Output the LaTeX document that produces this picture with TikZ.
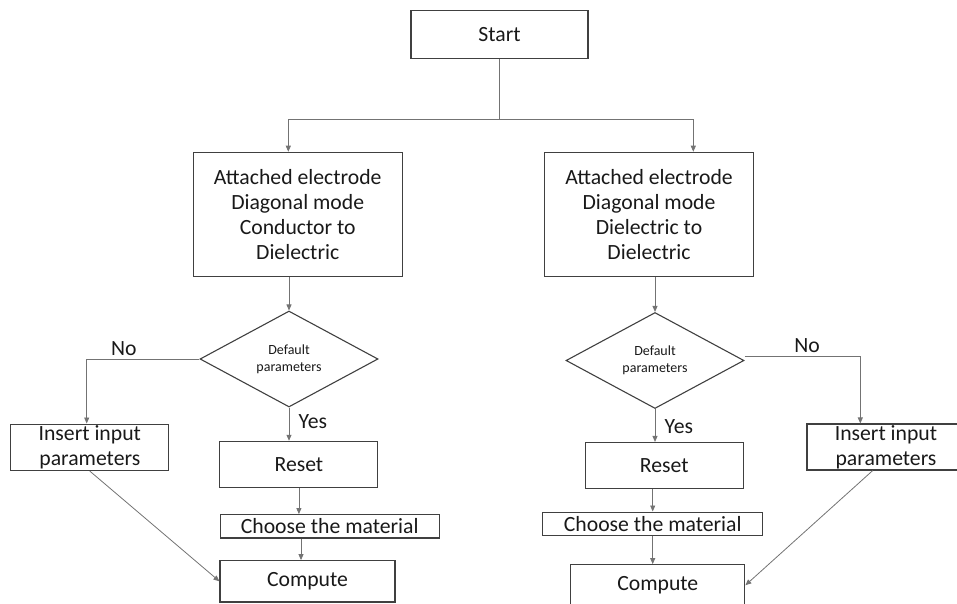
\documentclass[tikz,border=0pt]{standalone}
\usepackage{fontspec}
\setmainfont{Carlito}
\usetikzlibrary{arrows.meta,positioning,shapes.geometric}

\begin{document}
\begin{tikzpicture}[
  x=1pt, y=-1pt,
  box/.style={draw=black!75, line width=1.1pt, text=black!90, align=center, inner sep=0pt, font=\fontsize{21.7}{25}\selectfont},
  dec/.style={draw=black!75, line width=1.1pt, diamond, aspect=1.85, inner sep=0pt, text=black!90, align=center, minimum width=178pt, minimum height=96pt, font=\fontsize{14}{16.7}\selectfont},
  arr/.style={-{Triangle[length=6pt,width=5pt]}, draw=black!55, line width=0.8pt},
  lbl/.style={text=black!90, font=\fontsize{21.7}{25}\selectfont}
]
\useasboundingbox (0,0) rectangle (957,604);

\node[box, minimum width=177pt, minimum height=48pt] (start) at (499.5,34.7) {Start};
\node[box, minimum width=209pt, minimum height=124pt] (cdL) at (297.7,214.3) {Attached electrode\\Diagonal mode\\Conductor to\\Dielectric};
\node[box, minimum width=209pt, minimum height=124pt] (cdR) at (649,214.3) {Attached electrode\\Diagonal mode\\Dielectric to\\Dielectric};
\node[dec] (dL) at (289,359) {Default\\parameters};
\node[dec] (dR) at (655,360.5) {Default\\parameters};
\node[box, minimum width=158pt, minimum height=46.5pt] (insL) at (89.8,447.3) {Insert input\\parameters};
\node[box, minimum width=158pt, minimum height=46pt] (insR) at (886,447) {Insert input\\parameters};
\node[box, minimum width=158pt, minimum height=46pt] (resetL) at (298.9,464.3) {Reset};
\node[box, minimum width=158pt, minimum height=46pt] (resetR) at (664.2,465.5) {Reset};
\node[box, minimum width=219pt, minimum height=23.3pt] (chooseL) at (329.7,526.3) {Choose the material};
\node[box, minimum width=220pt, minimum height=23.3pt] (chooseR) at (652.7,523.7) {Choose the material};
\node[box, minimum width=175pt, minimum height=41.3pt] (compL) at (307.5,581.3) {Compute};
\node[box, minimum width=174pt, minimum height=41.3pt] (compR) at (657.8,585.3) {Compute};
\coordinate (split) at (499.5,119);

\draw[arr] (start.south) -- (split) -| ([xshift=-9.4pt]cdL.north);
\draw[arr] (split) -| ([xshift=44.3pt]cdR.north);
\draw[arr] (dL.north |- cdL.south) -- (dL.north);
\draw[arr] (dR.north |- cdR.south) -- (dR.north);
\draw[arr] (dL.west) -| node[lbl, pos=.335, above] {No} ([xshift=-3.1pt]insL.north);
\draw[arr] ([yshift=4.5pt]dR.east) -| node[lbl, pos=.27, above] {No} ([xshift=-25.7pt]insR.north);
\draw[arr] (dL.south) -- node[lbl, pos=.43, right=6pt] {Yes} (dL.south |- resetL.north);
\draw[arr] (dR.south) -- node[lbl, pos=.53, right=6pt] {Yes} (dR.south |- resetR.north);
\draw[arr] (resetL.south) -- (resetL.south |- chooseL.north);
\draw[arr] ([xshift=-6.5pt]compL.north |- chooseL.south) -- ([xshift=-6.5pt]compL.north);
\draw[arr] (chooseR.north |- resetR.south) -- (chooseR.north);
\draw[arr] (chooseR.south) -- (chooseR.south |- compR.north);
\draw[arr] (insL.south) -- (compL.west);
\draw[arr] ([xshift=-13.3pt]insR.south) -- (compR.east);
\end{tikzpicture}
\end{document}
